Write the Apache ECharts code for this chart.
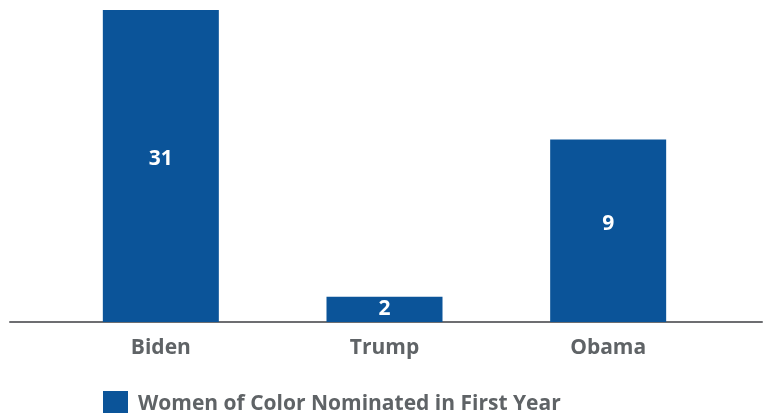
<!DOCTYPE html>
<html>
<head>
<meta charset="utf-8">
<script src="https://cdn.jsdelivr.net/npm/echarts@6/dist/echarts.min.js"></script>
<style>
  html, body { margin: 0; padding: 0; background: #ffffff; }
  #chart { width: 763px; height: 413px; }
</style>
</head>
<body>
<div id="chart"></div>
<script>
// Women of color nominated in each administration's first year
const presidents = ['Biden', 'Trump', 'Obama'];
const nominees = [31, 2, 9];
const seriesName = 'Women of Color Nominated in First Year';

const barColor = '#0b5499';
const textGray = '#5f6366';
const fontFamily = '"Open Sans", Lato, sans-serif';

// value labels sit a little above the middle on the taller bars
const barData = nominees.map(function (v) {
  return { value: v, label: { offset: [0, v > 5 ? -7 : 0] } };
});

const chart = echarts.init(document.getElementById('chart'), null, { renderer: 'canvas' });

chart.setOption({
  animation: false,
  backgroundColor: '#ffffff',
  grid: [
    { left: 49, right: 43, top: 10, bottom: 91, containLabel: false },
    // wider grid used only for the long baseline
    { left: 10, right: 1, top: 10, bottom: 91, containLabel: false }
  ],
  legend: {
    data: [seriesName],
    left: 98,
    top: 386,
    itemWidth: 25,
    itemHeight: 26,
    icon: 'rect',
    textStyle: { color: textGray, fontSize: 21, fontWeight: 'bold', fontFamily: fontFamily, padding: [0, 0, 0, 5] }
  },
  xAxis: [
    {
      type: 'category',
      gridIndex: 0,
      data: presidents,
      axisLine: { show: false },
      axisTick: { show: false },
      axisLabel: { color: textGray, fontSize: 21, fontWeight: 'bold', fontFamily: fontFamily, margin: 16 }
    },
    {
      type: 'value',
      gridIndex: 1,
      min: 0,
      max: 1,
      axisLine: { show: true, lineStyle: { color: '#6d6e71', width: 2 } },
      axisTick: { show: false },
      axisLabel: { show: false },
      splitLine: { show: false }
    }
  ],
  yAxis: [
    {
      type: 'log',
      gridIndex: 0,
      min: 1.573,
      max: 31,
      show: false,
      splitLine: { show: false }
    },
    {
      type: 'value',
      gridIndex: 1,
      show: false,
      splitLine: { show: false }
    }
  ],
  series: [
    {
      name: seriesName,
      type: 'bar',
      xAxisIndex: 0,
      yAxisIndex: 0,
      data: barData,
      barWidth: 116,
      clip: true,
      itemStyle: { color: barColor },
      label: {
        show: true,
        position: 'inside',
        color: '#ffffff',
        fontSize: 21,
        fontWeight: 'bold',
        fontFamily: fontFamily
      }
    }
  ]
});
</script>
</body>
</html>
